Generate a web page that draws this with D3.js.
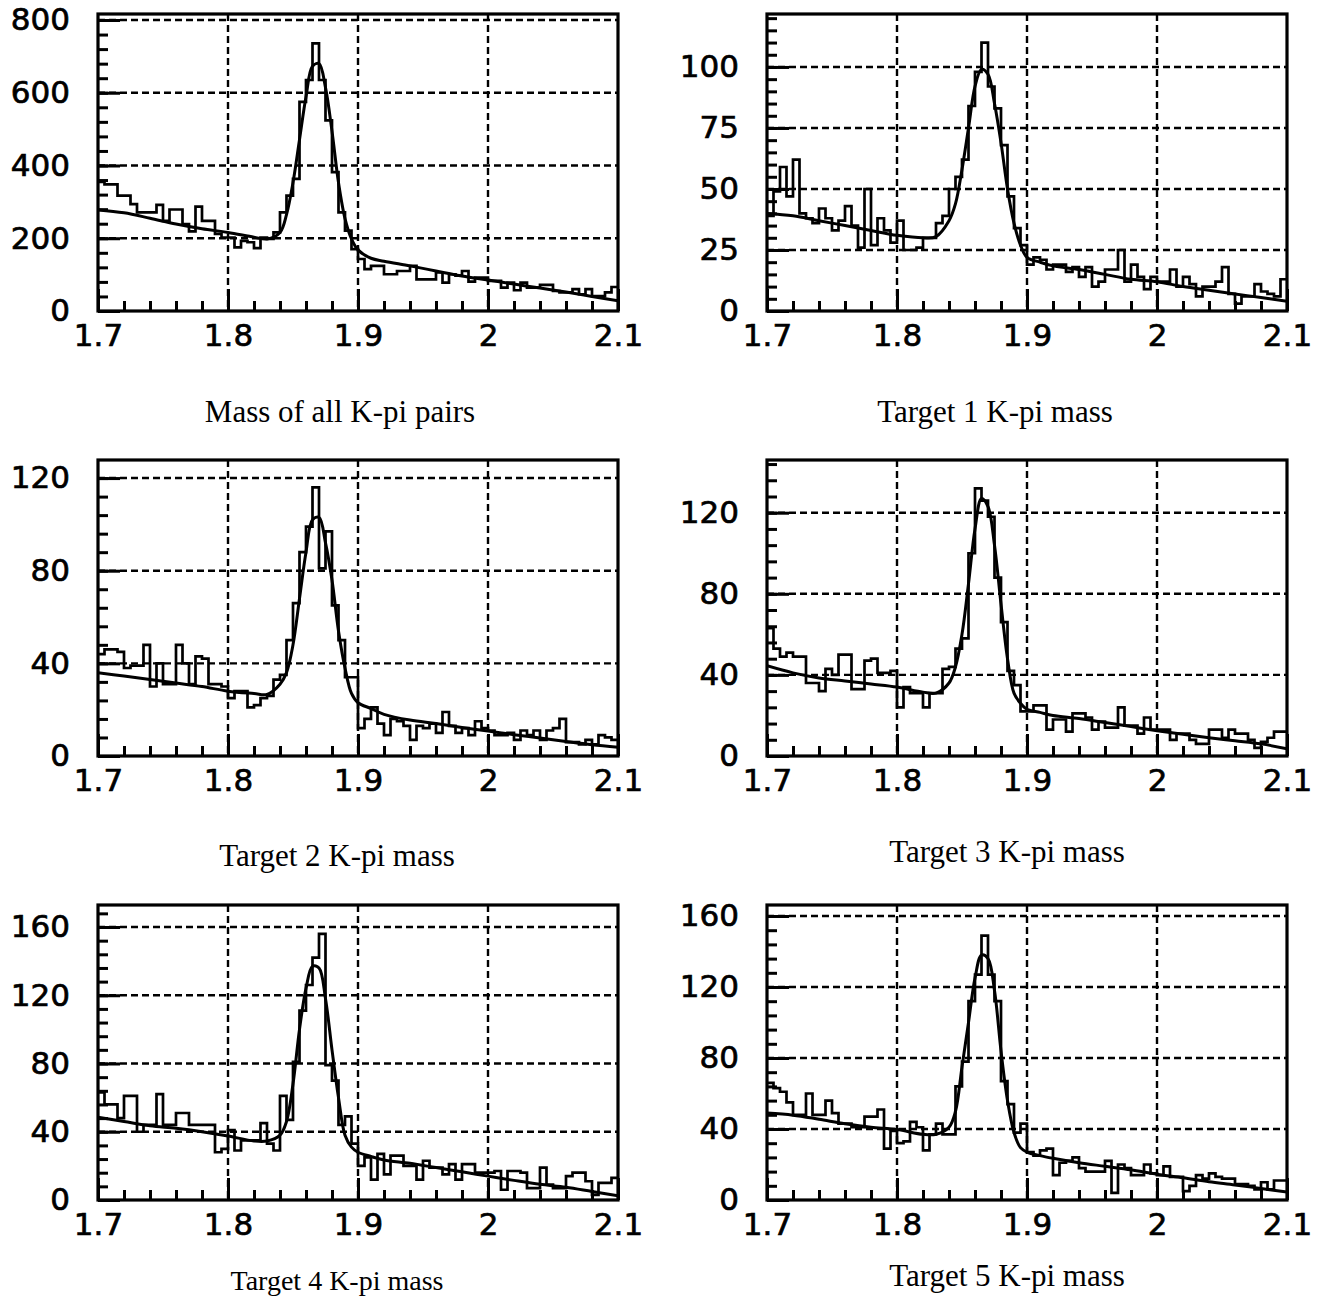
<!DOCTYPE html>
<html>
<head>
<meta charset="utf-8">
<script src="https://cdn.jsdelivr.net/npm/d3@7"></script>
<style>
  body { margin: 0; background: #fff; }
  svg { display: block; }
</style>
</head>
<body>
<svg id="chart" width="1321" height="1300"></svg>
<script>
// histogram binning: 80 bins of 5 MeV from 1.7 to 2.1
const binLow = 1.7;
const binWidth = 0.005;

const countsAll = [355,348,348,317,317,294,271,271,271,292, 248,279,279,239,219,287,248,248,212,202,
  202,175,193,189,173,202,198,216,271,317, 363,575,635,736,635,524,382,271,221,170,
  143,115,124,124,101,101,110,110,124,87, 87,87,106,78,101,97,110,81,92,92,
  83,83,64,78,57,78,64,64,72,72, 55,51,51,60,46,60,41,41,51,66];
const countsT1 = [39,49,59,47,62,40,38,36,42,38, 33,37,43,35,26,50,27,38,33,28,
  37,25,25,26,30,30,36,39,50,55, 62,84,98,110,92,83,68,47,34,27,
  19,22,21,17,19,19,16,18,14,18, 10,12,17,17,25,12,19,14,9,14,
  12,12,17,10,14,11,6,10,10,12, 18,7,3,6,6,11,8,7,6,13];
const countsT2 = [44,46,46,45,38,39,39,48,30,40, 31,31,48,40,31,43,42,31,31,30,
  25,28,28,21,22,25,26,33,35,50, 66,88,99,116,81,97,65,50,34,34,
  12,16,21,14,9,16,15,13,7,13, 12,14,10,19,13,10,12,9,15,12,
  11,9,9,10,7,11,9,11,7,11, 12,16,6,6,5,7,5,9,8,7];
const countsT3 = [63,53,49,51,49,49,36,36,32,43, 40,50,50,33,33,47,48,41,41,42,
  24,34,31,31,24,31,31,43,44,53, 58,100,132,126,118,88,66,42,35,22,
  22,25,25,13,18,18,12,21,21,19, 13,17,14,14,24,15,15,11,19,13,
  13,13,8,11,11,8,6,6,13,13, 9,13,11,11,8,4,7,9,12,12];
const countsT4 = [63,56,56,48,61,61,40,44,44,62, 44,44,51,51,44,44,44,44,28,30,
  41,29,35,35,35,45,33,29,61,47, 81,111,126,142,156,79,70,44,49,33,
  20,25,12,27,15,26,26,20,20,12, 23,19,19,15,21,12,21,21,16,16,
  16,17,6,17,17,16,7,7,19,9, 7,7,14,16,16,11,3,10,10,13];
const countsT5 = [66,63,61,55,48,48,60,48,48,56, 49,43,43,41,41,47,47,51,29,39,
  32,33,44,41,28,37,43,37,37,64, 78,112,127,149,127,112,67,54,38,43,
  27,25,28,29,14,21,22,24,18,16, 16,16,22,4,20,18,14,14,20,15,
  14,19,13,13,5,8,14,12,15,13, 12,12,9,9,8,6,10,6,11,11];

// fitted curve at these masses
const fitX = [1.70,1.72,1.74,1.76,1.78,1.80,1.82,1.83,1.84,1.845,1.85,1.855,1.86,1.865,1.87,1.875,
  1.88,1.885,1.89,1.895,1.90,1.91,1.92,1.94,1.96,1.98,2.00,2.02,2.04,2.06,2.08,2.10];
const fitAll = [278,270,255,239,226,216,203,198,216,265,353,471,589,673,680,614,
  494,353,254,198,168,145,137,124,110,96,85,74,63,52,40,28];
const fitT1 = [40,39,37,35,33,31,30,30.5,37,44,58,75,92,99,97,85,
  69,50,36,27,22,20,18.5,17,15,13,12,10,8.5,7,5.5,4];
const fitT2 = [36,34.5,33,31.5,30,28,27,26.6,31,36,48,68,88,102,103,92,
  76,54,38,27,23,20.5,18,15.5,14,12.3,10.8,9.2,7.8,6.3,4.9,3.8];
const fitT3 = [44.5,41,38.5,37,35.5,34,31.5,31,36,44,60,85,112,127,123,104,
  75,48,31,26,23,21.5,20,18.5,16.5,14.5,12.5,10.7,9,7.5,6,3.5];
const fitT4 = [48.5,46,43.5,42,40,37.5,34.6,34.6,38,46,68,100,124,137,136,118,
  88,60,38,31,28,25.5,23.5,21.5,19,16.5,14,11.5,9.2,7.5,5,2.5];
const fitT5 = [49,47.8,45.5,43,41,39.7,37,37,41,50,75,100,125,138,136,118,
  84,56,38,29.5,27,25,23.5,21,19,17,14.5,12.5,10.3,8.5,6.5,4.5];

const xTicks = [1.7, 1.8, 1.9, 2.0, 2.1];
const xTickLabels = ["1.7", "1.8", "1.9", "2", "2.1"];
const yTicksAll = [0, 200, 400, 600, 800];
const yTicksT1 = [0, 25, 50, 75, 100];
const yTicksT2 = [0, 40, 80, 120];
const yTicksT3 = [0, 40, 80, 120];
const yTicksT4 = [0, 40, 80, 120, 160];
const yTicksT5 = [0, 40, 80, 120, 160];
const yMinorSteps = [40, 5, 8, 8, 8, 8];
const yMaxes = [816.5, 121.7, 127.8, 146, 172.9, 166.2];

const titles = ["Mass of all K-pi pairs", "Target 1 K-pi mass", "Target 2 K-pi mass",
  "Target 3 K-pi mass", "Target 4 K-pi mass", "Target 5 K-pi mass"];

// layout of the six frames
const panels = [
  { counts: countsAll, fit: fitAll, yTicks: yTicksAll, left: 98,  top: 14,  bottom: 311, tx: 340,  ty: 422,  ts: 31 },
  { counts: countsT1,  fit: fitT1,  yTicks: yTicksT1,  left: 767, top: 14,  bottom: 311, tx: 995,  ty: 422,  ts: 31 },
  { counts: countsT2,  fit: fitT2,  yTicks: yTicksT2,  left: 98,  top: 460, bottom: 756, tx: 337,  ty: 866,  ts: 31 },
  { counts: countsT3,  fit: fitT3,  yTicks: yTicksT3,  left: 767, top: 460, bottom: 756, tx: 1007, ty: 862,  ts: 31 },
  { counts: countsT4,  fit: fitT4,  yTicks: yTicksT4,  left: 98,  top: 905, bottom: 1200, tx: 337, ty: 1290, ts: 28 },
  { counts: countsT5,  fit: fitT5,  yTicks: yTicksT5,  left: 767, top: 905, bottom: 1200, tx: 1007, ty: 1286, ts: 31 }
];
const frameWidth = 520;

const svg = d3.select("#chart");
const labelFont = "'DejaVu Sans', sans-serif";

panels.forEach((p, k) => {
  const x = d3.scaleLinear().domain([1.7, 2.1]).range([p.left, p.left + frameWidth]);
  const y = d3.scaleLinear().domain([0, yMaxes[k]]).range([p.bottom, p.top]);
  const g = svg.append("g");

  const clipId = "clip" + k;
  g.append("clipPath").attr("id", clipId)
    .append("rect")
    .attr("x", p.left).attr("y", p.top)
    .attr("width", frameWidth).attr("height", p.bottom - p.top);

  // dashed grid at major ticks
  g.append("g").selectAll("line")
    .data(p.yTicks.filter(v => v > 0))
    .join("line")
    .attr("x1", p.left).attr("x2", p.left + frameWidth)
    .attr("y1", d => y(d)).attr("y2", d => y(d))
    .attr("stroke", "#000").attr("stroke-width", 2.4)
    .attr("stroke-dasharray", "7,4");
  g.append("g").selectAll("line")
    .data(xTicks.slice(1, -1))
    .join("line")
    .attr("x1", d => x(d)).attr("x2", d => x(d))
    .attr("y1", p.top).attr("y2", p.bottom)
    .attr("stroke", "#000").attr("stroke-width", 2.4)
    .attr("stroke-dasharray", "7,4");

  // minor ticks
  const yMinor = d3.range(0, yMaxes[k], yMinorSteps[k]);
  const xMinor = d3.range(0, 21).map(i => 1.7 + i * 0.02);
  g.append("g")
    .attr("transform", `translate(${p.left},0)`)
    .call(d3.axisLeft(y).tickValues(yMinor).tickSize(-10).tickFormat(""))
    .call(a => a.select(".domain").remove())
    .selectAll("line").attr("stroke-width", 3);
  g.append("g")
    .attr("transform", `translate(0,${p.bottom})`)
    .call(d3.axisBottom(x).tickValues(xMinor).tickSize(-10).tickFormat(""))
    .call(a => a.select(".domain").remove())
    .selectAll("line").attr("stroke-width", 3);

  // major ticks with labels
  const yAxis = g.append("g")
    .attr("transform", `translate(${p.left},0)`)
    .call(d3.axisLeft(y).tickValues(p.yTicks).tickSize(-22).tickPadding(28).tickFormat(d => d));
  const xAxis = g.append("g")
    .attr("transform", `translate(0,${p.bottom})`)
    .call(d3.axisBottom(x).tickValues(xTicks).tickSize(-22).tickPadding(13)
      .tickFormat((d, i) => xTickLabels[i]));
  [yAxis, xAxis].forEach(a => {
    a.select(".domain").remove();
    a.selectAll("line").attr("stroke-width", 3);
    a.selectAll("text")
      .attr("font-family", labelFont)
      .attr("font-size", 31)
      .attr("fill", "#000")
      .attr("stroke", "#000")
      .attr("stroke-width", 0.7);
  });

  // histogram as steps
  const steps = p.counts.map((c, i) => [binLow + i * binWidth, c]);
  steps.push([binLow + p.counts.length * binWidth, p.counts[p.counts.length - 1]]);
  g.append("path")
    .datum(steps)
    .attr("clip-path", `url(#${clipId})`)
    .attr("fill", "none")
    .attr("stroke", "#000")
    .attr("stroke-width", 2.7)
    .attr("d", d3.line().x(d => x(d[0])).y(d => y(d[1])).curve(d3.curveStepAfter));

  // fitted curve
  g.append("path")
    .datum(fitX.map((v, i) => [v, p.fit[i]]))
    .attr("clip-path", `url(#${clipId})`)
    .attr("fill", "none")
    .attr("stroke", "#000")
    .attr("stroke-width", 3)
    .attr("d", d3.line().x(d => x(d[0])).y(d => y(d[1])).curve(d3.curveCatmullRom));

  // frame
  g.append("rect")
    .attr("x", p.left).attr("y", p.top)
    .attr("width", frameWidth).attr("height", p.bottom - p.top)
    .attr("fill", "none").attr("stroke", "#000").attr("stroke-width", 3.2);

  // caption under the frame
  svg.append("text")
    .attr("x", p.tx).attr("y", p.ty)
    .attr("text-anchor", "middle")
    .attr("font-family", "'Liberation Serif', 'Times New Roman', serif")
    .attr("font-size", p.ts)
    .text(titles[k]);
});
</script>
</body>
</html>
